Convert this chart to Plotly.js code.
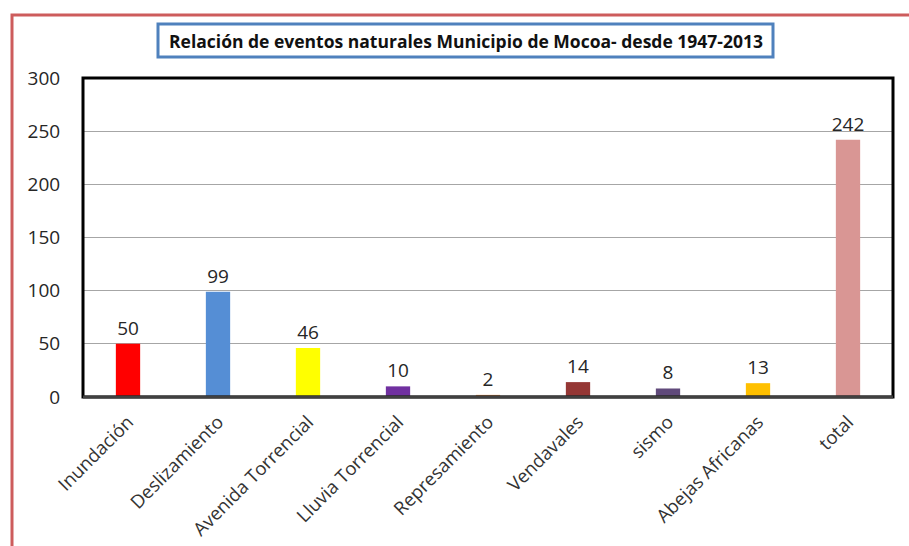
<!DOCTYPE html>
<html>
<head>
<meta charset="utf-8">
<script src="https://cdn.plot.ly/plotly-3.0.1.min.js"></script>
<style>html,body{margin:0;padding:0;background:#fff;}#chart{width:909px;height:546px;}</style>
</head>
<body>
<div id="chart"></div>
<script>
const categories = ["Inundación","Deslizamiento","Avenida Torrencial","Lluvia Torrencial","Represamiento","Vendavales","sismo","Abejas Africanas","total"];
const values = [50, 99, 46, 10, 2, 14, 8, 13, 242];
const barColors = ["#FF0000","#558ED5","#FFFF00","#7030A0","#F79646","#953735","#604A7B","#FFC000","#D99694"];
const yTicks = [0, 50, 100, 150, 200, 250, 300];
const titleText = "Relación de eventos naturales Municipio de Mocoa- desde 1947-2013";

const L = 83, R = 16, T = 78, B = 149;
const W = 909, H = 546;
const pw = W - L - R, ph = H - T - B;
const px = x => (x - L) / pw;
const py = y => (H - B - y) / ph;

const trace = {
  type: 'bar',
  x: categories,
  y: values,
  marker: {color: barColors, line: {width: 0}},
  width: 0.27,
  text: values.map(String),
  textposition: 'outside',
  constraintext: 'none',
  cliponaxis: false,
  textfont: {family: 'Open Sans, sans-serif', size: 19, color: '#262626'},
  hoverinfo: 'none'
};

const layout = {
  width: W, height: H,
  margin: {l: L, r: R, t: T, b: B, pad: 0},
  paper_bgcolor: '#fff', plot_bgcolor: '#fff',
  showlegend: false,
  bargap: 0.73,
  uniformtext: {mode: false},
  xaxis: {
    type: 'category',
    tickangle: -45,
    tickfont: {family: 'Open Sans, sans-serif', size: 18.5, color: '#333'},
    showgrid: false, zeroline: false, showline: false,
    ticks: 'outside', ticklen: 6, tickcolor: 'rgba(0,0,0,0)',
    fixedrange: true
  },
  yaxis: {
    range: [0, 300],
    tickvals: yTicks,
    ticktext: yTicks.map(String),
    tickfont: {family: 'Open Sans, sans-serif', size: 19, color: '#262626'},
    showgrid: true, gridcolor: '#a6a6a6', gridwidth: 1.2,
    zeroline: false, showline: false,
    ticks: 'outside', ticklen: 18, tickcolor: 'rgba(0,0,0,0)',
    fixedrange: true
  },
  shapes: [
    {type: 'rect', xref: 'paper', yref: 'paper', x0: px(12), x1: px(930), y0: py(570), y1: py(15),
     line: {color: '#CD5C5C', width: 3}, layer: 'below'},
    {type: 'rect', xref: 'paper', yref: 'paper', x0: 0, x1: 1, y0: 0, y1: 1,
     line: {color: '#000', width: 3}, layer: 'above'},
    {type: 'line', xref: 'paper', yref: 'paper', x0: 0, x1: 1, y0: 0, y1: 0,
     line: {color: '#404040', width: 3}, layer: 'above'},
    {type: 'rect', xref: 'paper', yref: 'paper', x0: px(158), x1: px(773), y0: py(57), y1: py(24),
     line: {color: '#4F81BD', width: 3}, fillcolor: '#fff', layer: 'above'}
  ],
  annotations: [
    {xref: 'paper', yref: 'paper', x: (px(158) + px(773)) / 2, y: (py(57) + py(24)) / 2,
     xanchor: 'center', yanchor: 'middle', showarrow: false,
     text: '<b>' + titleText + '</b>',
     font: {family: 'Open Sans, sans-serif', size: 17.5, color: '#111'}}
  ]
};

Plotly.newPlot('chart', [trace], layout, {displayModeBar: false, staticPlot: true});
</script>
</body>
</html>
